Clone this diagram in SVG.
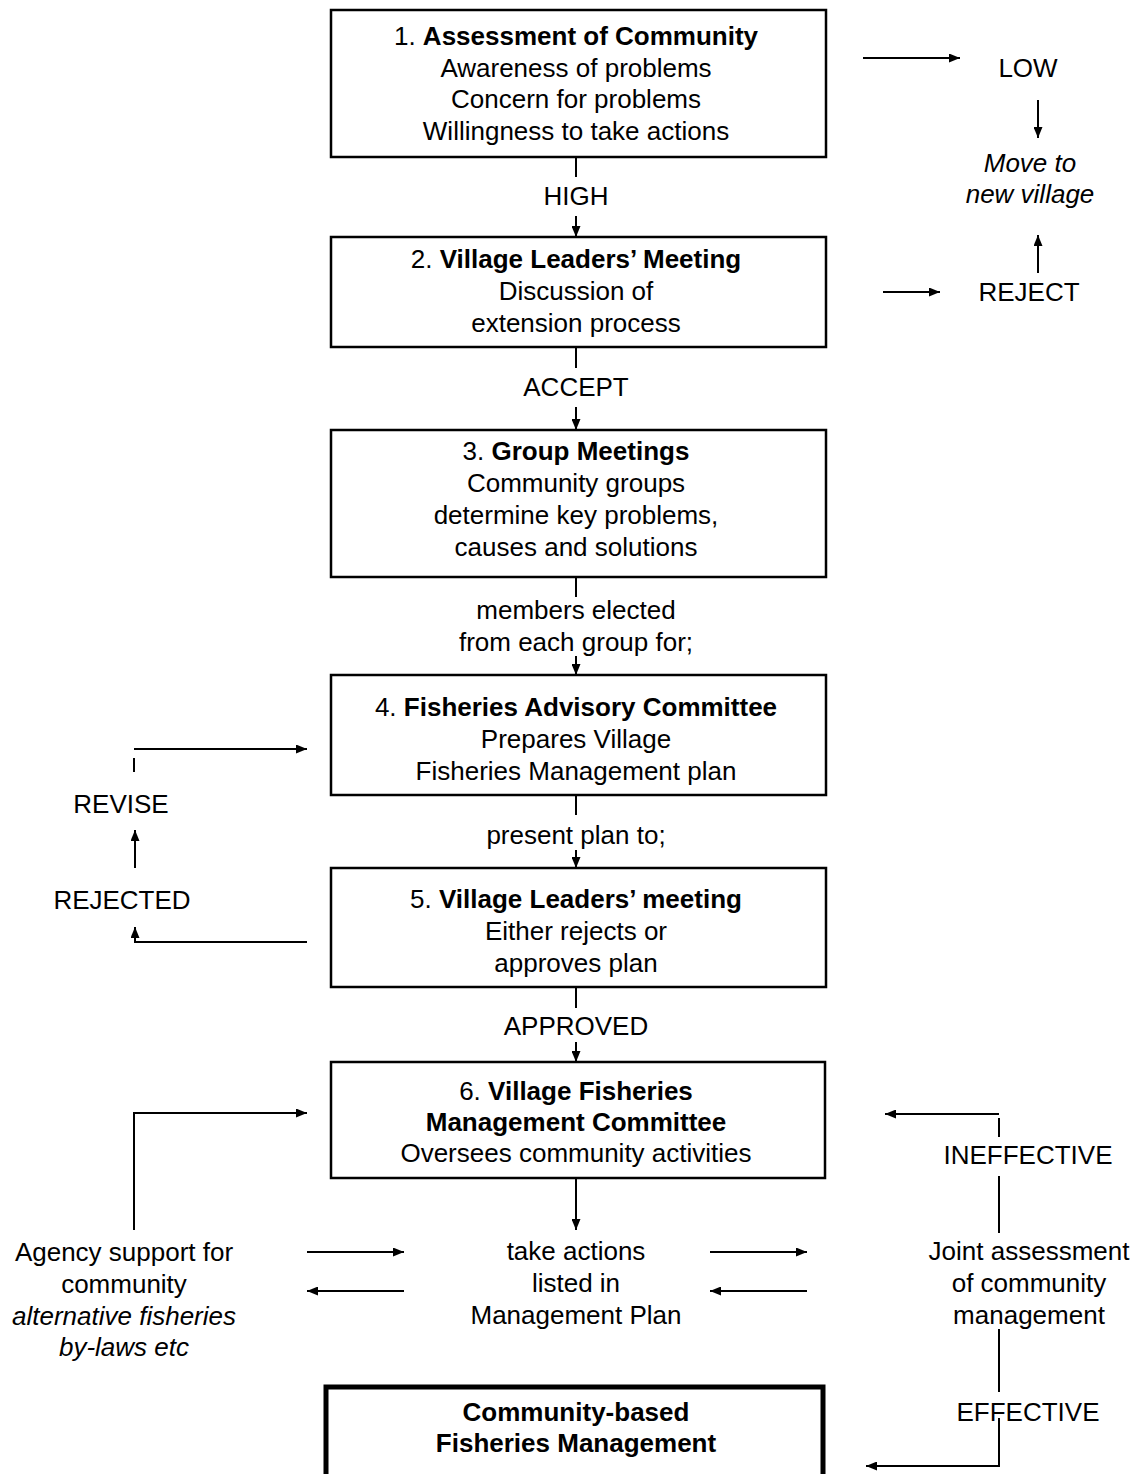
<svg xmlns="http://www.w3.org/2000/svg" width="1138" height="1474" viewBox="0 0 1138 1474">
<style>
text{font-family:"Liberation Sans",Arial,sans-serif;font-size:26px;fill:#000;text-anchor:middle}
.b{font-weight:bold}
.i{font-style:italic}
.box{fill:#fff;stroke:#000;stroke-width:2.5}
.fin{fill:#fff;stroke:#000;stroke-width:5}
.c{fill:none;stroke:#000;stroke-width:2}
.a{fill:none;stroke:#000;stroke-width:2;marker-end:url(#ah)}
</style>
<defs>
<marker id="ah" viewBox="0 0 11 9" refX="11" refY="4.5" markerWidth="11" markerHeight="9" markerUnits="userSpaceOnUse" orient="auto"><path d="M0,0 L11,4.5 L0,9 z" fill="#000"/></marker>
</defs>
<rect width="1138" height="1474" fill="#fff"/>

<g id="connectors">
<line class="c" x1="576" y1="157" x2="576" y2="177"/>
<line class="a" x1="576" y1="216" x2="576" y2="237"/>
<line class="c" x1="576" y1="347" x2="576" y2="368"/>
<line class="a" x1="576" y1="407" x2="576" y2="430"/>
<line class="c" x1="576" y1="577" x2="576" y2="597"/>
<line class="a" x1="576" y1="656" x2="576" y2="675"/>
<line class="c" x1="576" y1="795" x2="576" y2="815"/>
<line class="a" x1="576" y1="850" x2="576" y2="868"/>
<line class="c" x1="576" y1="987" x2="576" y2="1008"/>
<line class="a" x1="576" y1="1042" x2="576" y2="1062"/>
<line class="a" x1="576" y1="1178" x2="576" y2="1230"/>
<line class="a" x1="863" y1="58" x2="960" y2="58"/>
<line class="a" x1="1038" y1="100" x2="1038" y2="138"/>
<line class="a" x1="1038" y1="273" x2="1038" y2="235"/>
<line class="a" x1="883" y1="292" x2="940" y2="292"/>
<line class="c" x1="134" y1="758" x2="134" y2="772"/>
<line class="a" x1="134" y1="749" x2="307" y2="749"/>
<line class="a" x1="135" y1="868" x2="135" y2="830"/>
<polyline class="a" points="307,942 135,942 135,927"/>
<polyline class="a" points="134,1230 134,1113 307,1113"/>
<line class="a" x1="307" y1="1252" x2="404" y2="1252"/>
<line class="a" x1="404" y1="1291" x2="307" y2="1291"/>
<line class="a" x1="710" y1="1252" x2="807" y2="1252"/>
<line class="a" x1="807" y1="1291" x2="710" y2="1291"/>
<line class="a" x1="999" y1="1114" x2="885" y2="1114"/>
<line class="c" x1="999" y1="1118" x2="999" y2="1137"/>
<line class="c" x1="999" y1="1176" x2="999" y2="1233"/>
<line class="c" x1="999" y1="1329" x2="999" y2="1392"/>
<polyline class="a" points="999,1418 999,1466 866,1466"/>
</g>

<g id="n1">
<rect class="box" x="331" y="10" width="495" height="147"/>
<text x="576" y="45">1. <tspan class="b">Assessment of Community</tspan></text>
<text x="576" y="77">Awareness of problems</text>
<text x="576" y="108">Concern for problems</text>
<text x="576" y="140">Willingness to take actions</text>
</g>
<g id="l-high"><text x="576" y="205">HIGH</text></g>

<g id="n2">
<rect class="box" x="331" y="237" width="495" height="110"/>
<text x="576" y="268">2. <tspan class="b">Village Leaders’ Meeting</tspan></text>
<text x="576" y="300">Discussion of</text>
<text x="576" y="332">extension process</text>
</g>
<g id="l-accept"><text x="576" y="396">ACCEPT</text></g>

<g id="n3">
<rect class="box" x="331" y="430" width="495" height="147"/>
<text x="576" y="460">3. <tspan class="b">Group Meetings</tspan></text>
<text x="576" y="492">Community groups</text>
<text x="576" y="524">determine key problems,</text>
<text x="576" y="556">causes and solutions</text>
</g>
<g id="l-members">
<text x="576" y="619">members elected</text>
<text x="576" y="651">from each group for;</text>
</g>

<g id="n4">
<rect class="box" x="331" y="675" width="495" height="120"/>
<text x="576" y="716">4. <tspan class="b">Fisheries Advisory Committee</tspan></text>
<text x="576" y="748">Prepares Village</text>
<text x="576" y="780">Fisheries Management plan</text>
</g>
<g id="l-present"><text x="576" y="844">present plan to;</text></g>

<g id="n5">
<rect class="box" x="331" y="868" width="495" height="119"/>
<text x="576" y="908">5. <tspan class="b">Village Leaders’ meeting</tspan></text>
<text x="576" y="940">Either rejects or</text>
<text x="576" y="972">approves plan</text>
</g>
<g id="l-approved"><text x="576" y="1035">APPROVED</text></g>

<g id="n6">
<rect class="box" x="331" y="1062" width="494" height="116"/>
<text x="576" y="1100">6. <tspan class="b">Village Fisheries</tspan></text>
<text x="576" y="1131" class="b">Management Committee</text>
<text x="576" y="1162">Oversees community activities</text>
</g>

<g id="n-take">
<text x="576" y="1260">take actions</text>
<text x="576" y="1292">listed in</text>
<text x="576" y="1324">Management Plan</text>
</g>

<g id="n-agency">
<text x="124" y="1261">Agency support for</text>
<text x="124" y="1293">community</text>
<text x="124" y="1325" class="i">alternative fisheries</text>
<text x="124" y="1356" class="i">by-laws etc</text>
</g>

<g id="n-joint">
<text x="1029" y="1260">Joint assessment</text>
<text x="1029" y="1292">of community</text>
<text x="1029" y="1324">management</text>
</g>
<g id="l-ineffective"><text x="1028" y="1164">INEFFECTIVE</text></g>
<g id="l-effective"><text x="1028" y="1421">EFFECTIVE</text></g>

<g id="n-low"><text x="1028" y="77">LOW</text></g>
<g id="n-move">
<text x="1030" y="172" class="i">Move to</text>
<text x="1030" y="203" class="i">new village</text>
</g>
<g id="n-reject"><text x="1029" y="301">REJECT</text></g>

<g id="n-revise"><text x="121" y="813">REVISE</text></g>
<g id="n-rejected"><text x="122" y="909">REJECTED</text></g>

<g id="n-final">
<rect class="fin" x="326" y="1387" width="497" height="100"/>
<text x="576" y="1421" class="b">Community-based</text>
<text x="576" y="1452" class="b">Fisheries Management</text>
</g>
</svg>
